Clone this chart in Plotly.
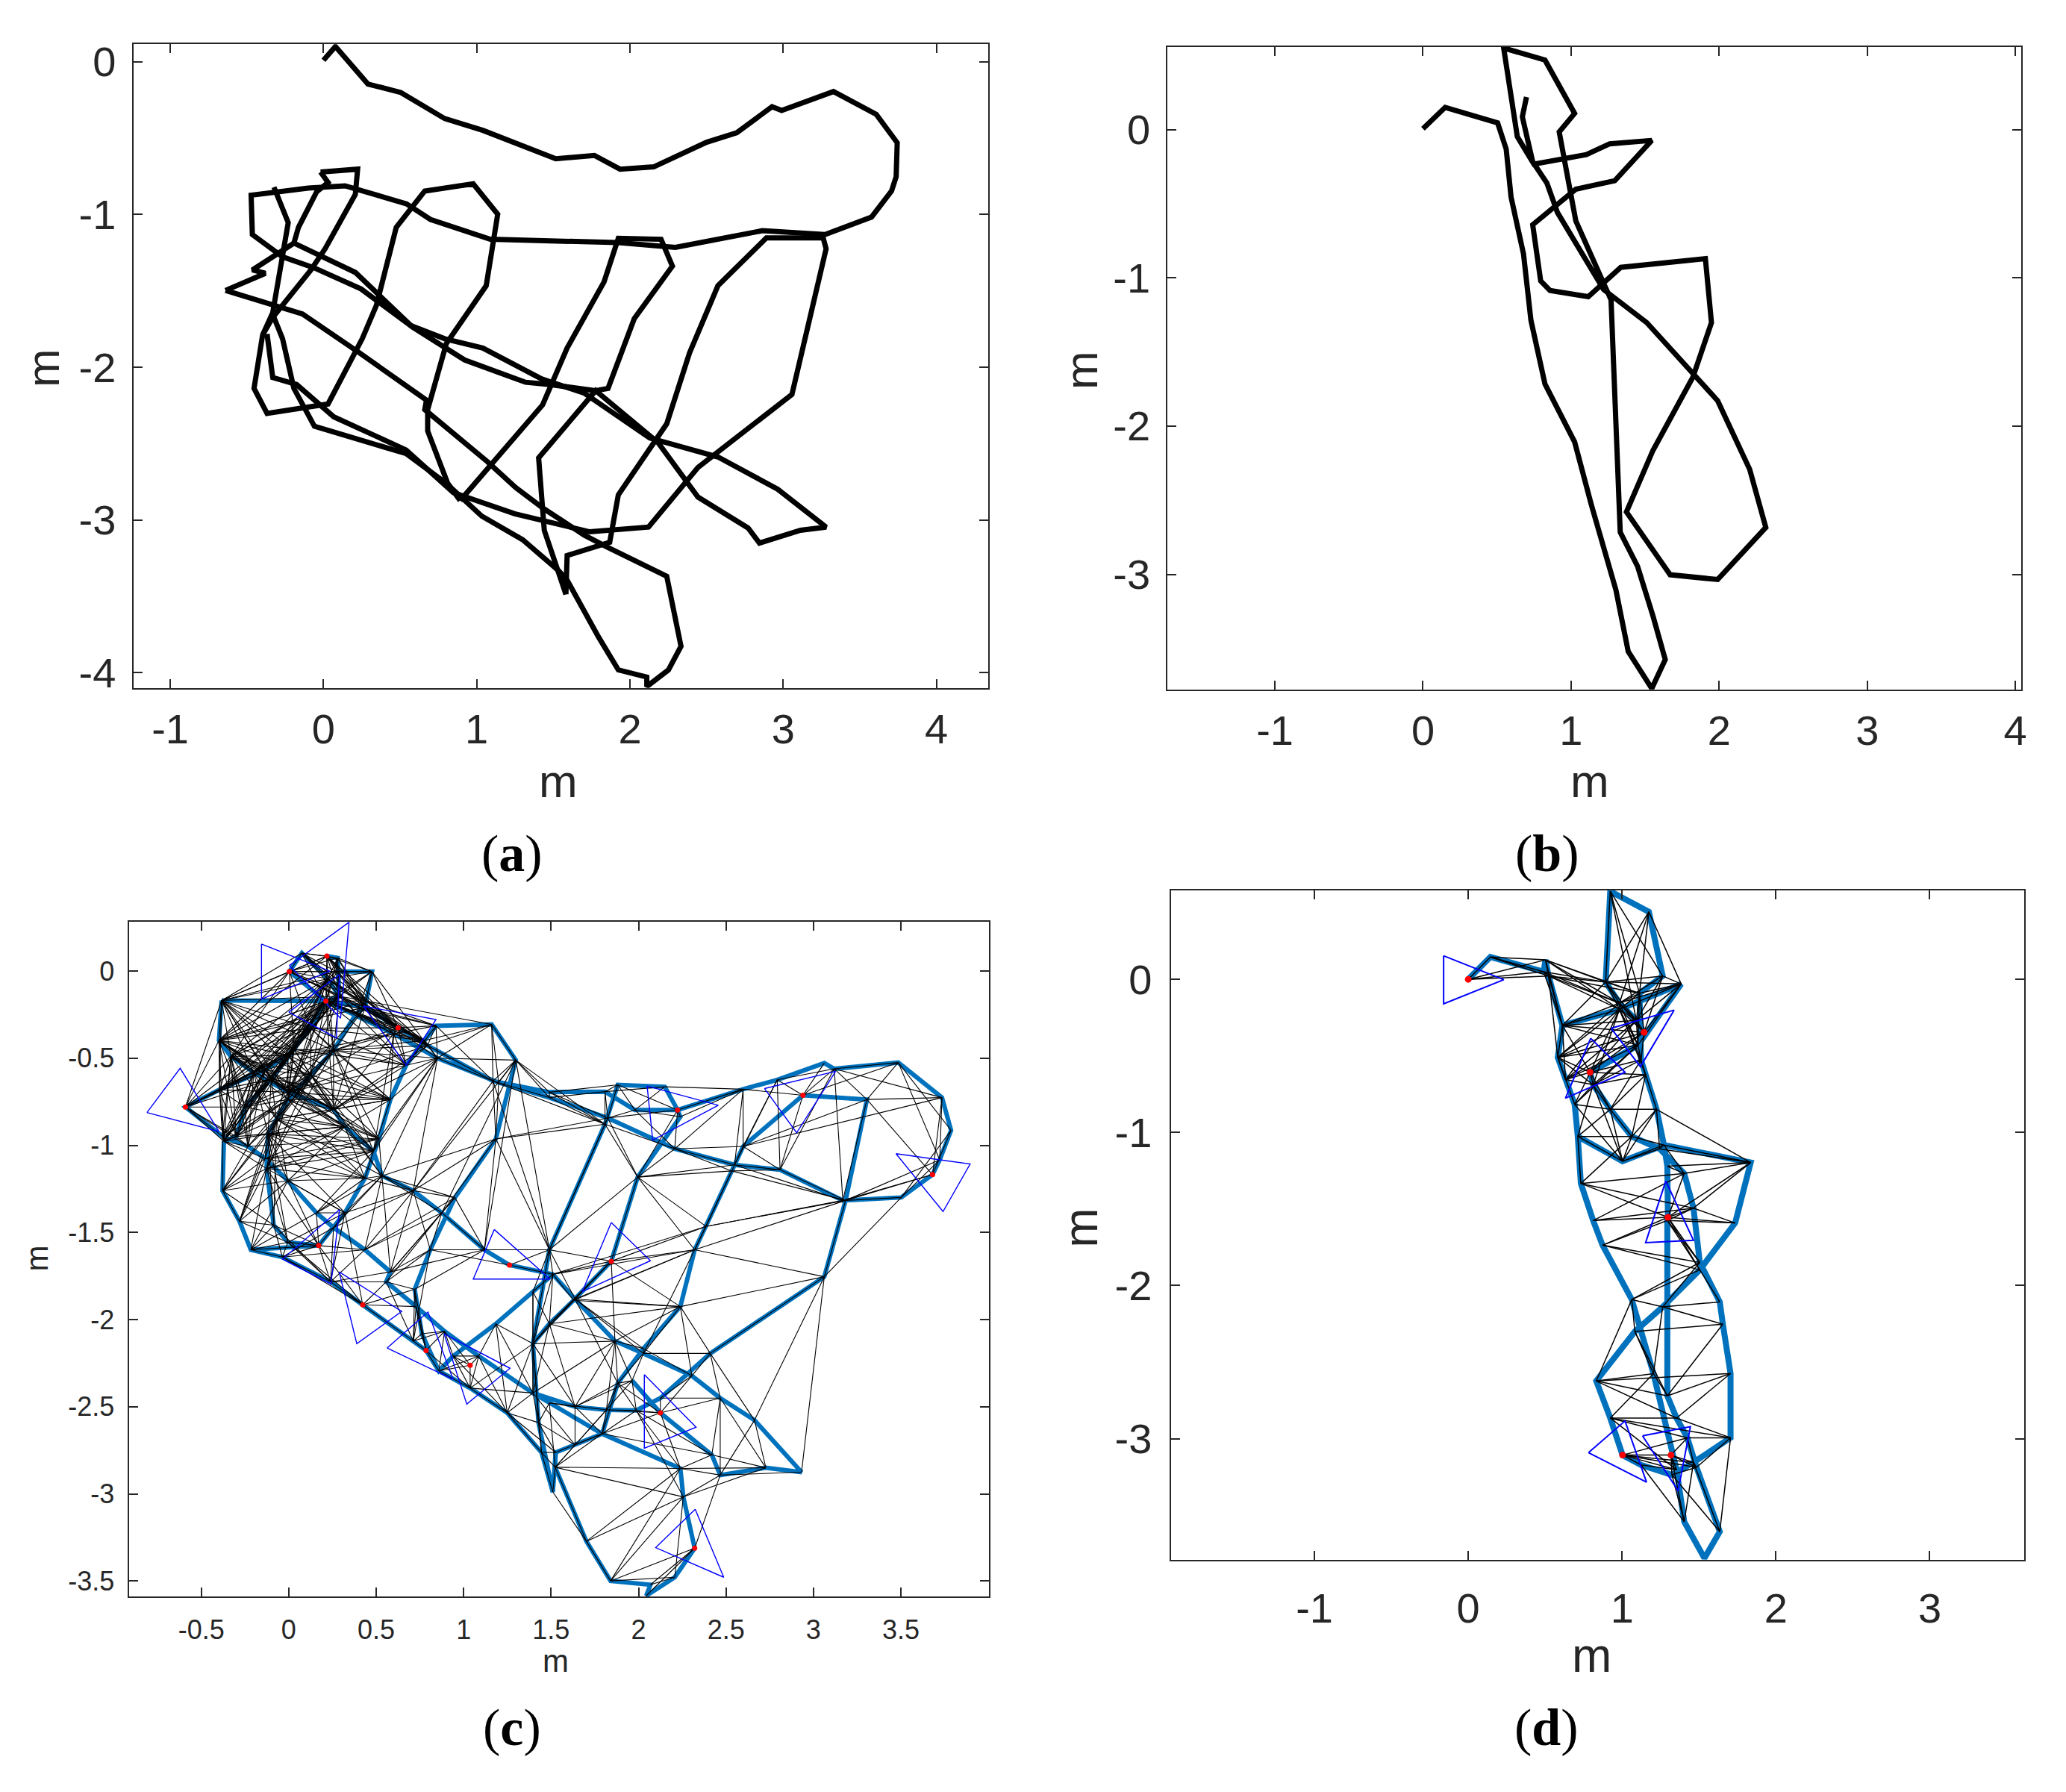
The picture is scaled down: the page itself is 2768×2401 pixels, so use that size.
import plotly.graph_objects as go

# ---------------- panel (a): raw trajectory, metres ----------------
traj_a = [
    [(0.00, 0.01), (0.078, 0.10), (0.29, -0.146), (0.505, -0.201), (0.791, -0.372), (1.040, -0.449),
     (1.516, -0.635), (1.768, -0.613), (1.935, -0.703), (2.155, -0.688), (2.500, -0.527), (2.697, -0.465),
     (2.927, -0.294), (2.990, -0.319), (3.328, -0.195), (3.607, -0.344), (3.744, -0.530), (3.737, -0.753),
     (3.707, -0.846), (3.577, -1.016), (3.273, -1.131), (2.864, -1.106), (2.296, -1.215), (1.924, -1.184),
     (1.088, -1.162), (0.698, -1.032), (0.542, -0.930), (0.141, -0.812), (-0.100, -0.827), (-0.472, -0.874),
     (-0.464, -1.131), (-0.267, -1.277), (-0.063, -1.348), (0.245, -1.487), (0.568, -1.726), (0.791, -1.813),
     (1.040, -1.874), (1.423, -2.076), (1.701, -2.169), (2.129, -2.463), (2.574, -2.587), (2.964, -2.798),
     (3.280, -3.046), (3.113, -3.067), (2.845, -3.151), (2.771, -3.052), (2.444, -2.850), (2.184, -2.494),
     (1.776, -2.153), (1.404, -2.593), (1.441, -3.067), (1.582, -3.486)],
    [(0.892, -2.872), (1.430, -2.246), (1.590, -1.874), (1.831, -1.441), (1.924, -1.156), (2.203, -1.162),
     (2.277, -1.338), (2.028, -1.682), (1.857, -2.138), (1.776, -2.153)],
    [(-0.323, -0.821), (-0.230, -1.053), (-0.331, -1.642), (-0.397, -1.788), (-0.453, -2.138), (-0.368, -2.302),
     (0.030, -2.240), (0.253, -1.813), (0.345, -1.596), (0.475, -1.084), (0.661, -0.846), (0.977, -0.799),
     (1.137, -0.998), (1.062, -1.466), (0.802, -1.844), (0.680, -2.277), (0.680, -2.417), (0.810, -2.758),
     (0.892, -2.872)],
    [(-0.019, -0.722), (0.223, -0.703), (0.208, -0.868), (0.011, -1.224), (-0.082, -1.363), (-0.331, -1.673),
     (-0.397, -1.788)],
    [(-0.019, -0.722), (0.030, -0.790), (-0.045, -0.852), (-0.163, -1.084), (-0.193, -1.187)],
    [(-0.639, -1.497), (-0.137, -1.651), (0.234, -1.905), (0.672, -2.215), (0.661, -2.277), (1.070, -2.618),
     (1.256, -2.789), (1.441, -2.928), (1.701, -3.098), (1.850, -3.176), (2.240, -3.368), (2.333, -3.826),
     (2.251, -3.981), (2.110, -4.09), (2.110, -4.028), (1.924, -3.981), (1.794, -3.764), (1.590, -3.393),
     (1.534, -3.331), (1.300, -3.129), (1.033, -2.974), (0.799, -2.758), (0.539, -2.565), (-0.059, -2.386),
     (-0.193, -2.138), (-0.267, -1.813), (-0.323, -1.673)],
    [(-0.368, -1.782), (-0.331, -2.067), (-0.175, -2.113), (0.067, -2.324), (0.539, -2.541), (0.847, -2.820),
     (1.248, -2.959), (1.738, -3.077), (2.121, -3.046), (2.444, -2.655), (3.057, -2.178), (3.280, -1.224),
     (3.261, -1.153), (2.890, -1.153), (2.574, -1.466), (2.389, -1.905), (2.240, -2.370), (1.924, -2.835),
     (1.868, -3.145), (1.590, -3.232), (1.582, -3.486)],
    [(-0.639, -1.497), (-0.379, -1.385), (-0.464, -1.363), (-0.193, -1.187), (0.208, -1.379), (0.579, -1.735),
     (0.921, -1.952), (1.319, -2.098), (1.478, -2.113), (1.694, -2.141), (1.776, -2.153)],
]

# ---------------- panel (b): raw trajectory, metres ----------------
traj_b = [
    [(0.000, 0.006), (0.150, 0.150), (0.504, 0.045), (0.562, -0.131), (0.595, -0.456), (0.679, -0.839),
     (0.729, -1.286), (0.824, -1.717), (1.024, -2.107), (1.137, -2.531), (1.303, -3.106), (1.386, -3.521),
     (1.545, -3.770), (1.636, -3.575), (1.553, -3.281), (1.449, -2.946), (1.332, -2.716), (1.270, -1.149),
     (1.032, -0.616), (0.983, -0.361), (0.920, -0.016), (1.024, 0.109), (0.824, 0.469), (0.545, 0.550),
     (0.637, -0.048), (0.749, -0.233), (1.103, -0.169), (1.261, -0.096), (1.545, -0.073), (1.295, -0.345),
     (1.032, -0.402), (0.741, -0.642), (0.795, -1.021), (0.858, -1.085), (1.116, -1.127), (1.336, -0.929),
     (1.907, -0.871), (1.948, -1.302), (1.823, -1.669), (1.553, -2.164), (1.374, -2.579), (1.669, -3.003),
     (1.990, -3.035), (2.315, -2.684), (2.206, -2.292), (1.990, -1.829), (1.511, -1.302), (1.220, -1.079),
     (0.908, -0.559), (0.837, -0.361), (0.741, -0.217), (0.671, 0.086), (0.699, 0.220)],
]

# ---------------- panel (c): optimised poses + graph ----------------
nodes_c_x = [
    0.003, 0.075, 0.218, 0.280, 0.272, 0.476, 0.443, 0.212, 0.288, -0.384,
    0.435, 0.625, 0.793, 1.168, 1.490, 1.808, 1.979, 2.223, 2.598, 2.793,
    3.062, 3.119, 3.485, 3.735, 3.787, 3.722, 3.681, 3.502, 3.168, 2.809,
    2.549, 2.207, 1.824, 1.490, 1.200, 0.850, 0.600, -0.399, -0.331, -0.200,
    -0.005, 0.256, 0.321, 0.484, 0.533, 0.712, 0.875, 1.119, 1.262, 1.510,
    1.637, 1.865, 2.028, 2.305, 2.467, 2.663, 2.932, 2.728, 2.467, 2.419,
    2.125, 1.963, 1.808, 1.881, 2.150, 1.490, 1.396, 1.428, 1.510, 1.526,
    1.637, 1.792, 2.239, 1.995, 1.844, 1.629, 1.490, 2.239, 2.256, 2.321,
    2.207, 2.044, 2.068, 1.840, 1.702, 1.523, 1.490, 2.940, 3.306, 3.184,
    3.062, 2.410, 1.987, 1.816, 1.637, 1.396, 1.086, 0.891, 0.728, 0.557,
    0.581, 0.435, 0.256, 0.158, -0.005, -0.135, -0.233, -0.379, -0.591, -0.396,
    -0.135, -0.005, 0.125, 2.598, 2.533, 2.386, 2.321, 2.239, 2.028, 1.881,
    -0.371, -0.379, -0.282, -0.217, 0.171, 0.321, 0.435, 0.516, 0.581, 0.671,
    0.777, 0.842, 1.160, 1.298, 1.184, 0.950, 0.809, 0.720, 0.761, 0.858,
    0.940, 1.184, 1.396, -0.037, 0.239, 0.423, 0.712, 1.037, 1.249, 1.445,
    0.030, -0.100, -0.250, -0.300, 0.386, 0.256, 0.125, -0.070, -0.119, -0.127,
    -0.086, -0.005, 0.785, 1.037, 2.125, -0.005, 0.223,
]
nodes_c_y = [
    -0.003, 0.103, 0.086, 0.075, -0.003, -0.003, -0.172, -0.172, -0.144, -0.169,
    -0.208, -0.325, -0.427, -0.631, -0.695, -0.692, -0.797, -0.797, -0.678, -0.624,
    -0.528, -0.561, -0.525, -0.726, -0.914, -1.083, -1.168, -1.299, -1.316, -1.140,
    -1.112, -1.020, -0.843, -0.726, -0.640, -0.500, -0.360, -0.398, -0.490, -0.582,
    -0.695, -0.794, -0.893, -1.034, -1.175, -1.260, -1.387, -1.599, -1.687, -1.740,
    -1.882, -2.123, -2.194, -2.322, -2.450, -2.577, -2.875, -2.850, -2.892, -2.776,
    -2.535, -2.350, -0.879, -0.653, -0.664, -1.599, -2.138, -2.591, -2.989, -2.762,
    -2.719, -2.655, -0.836, -1.182, -1.665, -1.889, -2.024, -2.854, -3.017, -3.311,
    -3.478, -3.584, -3.521, -3.499, -3.272, -2.847, -2.478, -0.713, -0.737, -1.316,
    -1.754, -2.194, -2.521, -2.518, -2.500, -2.421, -2.209, -2.067, -1.925, -1.783,
    -1.726, -1.599, -1.472, -1.387, -1.203, -1.076, -1.006, -0.949, -0.780, -0.681,
    -0.568, -0.483, -0.328, -1.006, -1.147, -1.465, -1.599, -1.925, -2.166, -2.365,
    -0.977, -1.260, -1.436, -1.599, -1.575, -1.387, -1.189, -0.963, -0.737, -0.540,
    -0.398, -0.314, -0.306, -0.511, -0.963, -1.300, -1.599, -1.826, -2.081, -2.294,
    -2.209, -2.024, -1.840, -1.641, -1.783, -1.915, -2.123, -2.393, -2.535, -2.762,
    -0.450, -0.620, -0.780, -0.950, -0.243, -0.455, -0.596, -0.850, -0.935, -1.133,
    -1.458, -1.556, -2.177, -2.262, -2.450, -0.737, -0.045,
]
path_c = [
    [9, 7],
    [7, 10, 11, 12, 13, 14, 15, 16, 17, 18, 19, 20, 21, 22, 23, 24, 25, 26, 27, 28, 29, 30, 31, 32, 33,
     34, 35, 36, 7],
    [9, 37, 38, 39, 40, 41, 42, 43, 44, 45, 46, 47, 48, 49, 50, 51, 52, 53, 54, 55, 56, 57, 58, 59, 60, 61],
    [17, 64, 63, 62, 65, 66, 67, 68, 69, 70, 71],
    [17, 72, 73, 74, 75, 76, 66],
    [95, 86, 71, 77, 78, 79, 80, 81, 82, 83, 84, 85, 69],
    [87, 88, 89, 90, 91, 164, 92, 93, 94, 95, 96, 97, 98, 99, 100, 101, 102, 103, 104, 105, 106, 107, 108,
     109, 110, 111, 112, 7],
    [87, 113, 114, 115, 116, 117, 118, 119, 71],
    [120, 121, 122, 123, 124, 125, 126, 127, 128, 129, 130, 131, 132, 133, 134, 135, 136, 137, 138, 139,
     140, 141, 142, 49],
    [123, 143, 144, 145, 146, 162, 139, 147, 148, 149, 68],
    [7, 150, 151, 152, 153, 120],
    [10, 154, 155, 156, 165, 157, 158, 159, 160, 161, 124],
    [0, 1, 166, 8, 7],
    [2, 3, 8],
    [4, 5, 6, 10],
    [0, 7],
]
# loop-closure edges, written as hub -> connected poses
links_c = {
    0: [1, 2, 3, 4, 5, 6, 8, 9, 10, 11, 37, 38, 112, 150, 166],
    1: [2, 3, 4, 8, 9, 166, 10, 6],
    2: [4, 5, 6, 8, 9, 10, 11, 12, 37, 166],
    3: [4, 5, 6, 10, 166],
    4: [6, 8, 10, 11, 166, 5],
    5: [8, 10, 11, 12, 154, 166],
    6: [11, 12, 130, 131, 132, 154, 10],
    7: [1, 2, 3, 4, 5, 6, 8, 11, 12, 36, 37, 38, 39, 40, 41, 108, 109, 110, 111, 150, 151, 152, 155, 156,
        165, 120, 129, 130, 131, 166, 154],
    8: [1, 2, 3, 9, 37, 38, 39, 40, 109, 110, 111, 112, 150, 151, 154, 155, 156, 5, 6, 10, 11],
    9: [1, 37, 38, 39, 40, 108, 109, 110, 111, 112, 150, 151, 166, 4, 41, 155],
    10: [11, 12, 130, 131, 36, 35, 154, 155, 129, 41, 40],
    166: [4, 5, 6, 9, 10, 11, 12, 37, 38, 39, 109, 110, 111, 112, 150, 151, 154, 155],
    112: [150, 151, 152, 155, 156, 165, 109, 110, 38, 39, 129, 130],
    150: [151, 152, 153, 155, 156, 165, 157, 109, 120, 128, 129],
    151: [152, 153, 155, 156, 157, 158, 120, 107, 127, 128],
    155: [156, 165, 157, 158, 159, 129, 130, 36, 35, 43],
    156: [165, 157, 158, 159, 152, 153, 43, 44, 127],
    165: [157, 158, 159, 152, 153, 120, 107, 106, 126, 127],
    157: [159, 160, 121, 122, 126, 44],
    158: [160, 161, 121, 122, 125, 126],
    159: [161, 122, 123, 124, 125],
    109: [110, 111, 150, 151, 152, 153, 37, 38, 39, 40, 107],
    110: [150, 151, 152, 153, 155, 156, 165, 40, 41, 107, 106],
    111: [150, 151, 152, 155, 156, 165, 41, 42, 36],
    36: [154, 155, 129, 130, 131, 128, 43],
    35: [129, 130, 131, 132, 133, 127, 128, 43, 44, 45],
    37: [39, 40, 108, 109, 110, 111, 150, 151, 152, 153, 120, 156, 41, 42, 10, 6, 112],
    38: [40, 108, 109, 110, 111, 152, 153, 120, 107, 106, 157, 165, 41, 156],
    39: [108, 109, 110, 111, 152, 153, 120, 106, 107, 157, 158, 41, 150, 112],
    40: [109, 110, 111, 150, 151, 152, 155, 156, 157, 165, 11, 12, 128, 129, 42, 43],
    41: [43, 110, 111, 150, 155, 156, 157, 158, 128, 129, 127, 11, 12, 35, 165],
    42: [44, 127, 128, 158, 159, 151, 152, 153, 157, 165, 126],
    43: [126, 127, 128, 157, 158, 159, 105],
    44: [45, 46, 134, 135, 100, 101, 126, 127],
    45: [134, 135, 136, 100, 101],
    46: [134, 135, 136, 99, 100, 47],
    47: [134, 135, 65, 136],
    108: [110, 111, 106, 107, 120, 152, 153, 151, 150, 39, 9, 37, 38],
    120: [107, 106, 105, 152, 153, 157, 158, 159, 109, 110, 151],
    121: [105, 106, 104, 159, 160, 158, 107],
    122: [104, 105, 160, 161, 159, 121],
    123: [143, 160, 161, 104, 103, 124],
    124: [143, 144, 102, 103, 160, 161, 101, 104, 145],
    125: [102, 103, 104, 44, 45, 144, 145, 161],
    126: [103, 104, 44, 45, 159, 105, 43],
    127: [43, 42, 105, 106, 158, 159, 155, 156],
    128: [42, 41, 155, 156, 165, 157, 112, 111],
    129: [131, 11, 12, 36, 155, 154, 112, 35],
    130: [11, 12, 35, 36, 154, 10, 132],
    131: [12, 13, 35, 10, 11],
    132: [13, 34, 35, 12, 133],
    133: [13, 14, 33, 34, 46, 45, 132, 65, 47, 62],
    134: [46, 47, 45, 44, 13, 34, 65],
    11: [36, 154, 155, 10, 6, 5, 112],
    12: [35, 36, 154, 155, 13],
    13: [33, 34, 35, 65, 134, 62, 45],
    14: [32, 62, 63, 33],
    15: [63, 64, 32, 62, 33],
    16: [64, 72, 32, 31, 63],
    17: [63, 72, 73, 31, 32, 18],
    18: [64, 30, 31, 113, 87, 72],
    19: [21, 29, 30, 113, 87],
    87: [20, 21, 18, 19, 29, 22],
    21: [88, 28, 29, 22, 23],
    22: [88, 24, 25, 87],
    23: [25, 26, 88, 113],
    24: [26, 27],
    25: [27, 89],
    26: [28, 89, 88],
    27: [89, 90],
    28: [89, 88, 30, 115],
    29: [89, 113, 114, 30],
    30: [113, 114, 31, 73],
    31: [62, 73, 113, 114],
    32: [62, 63, 73, 134, 65],
    62: [73, 65, 33, 134],
    65: [73, 74, 66, 49, 50, 142, 47, 48, 134],
    73: [114, 115, 62, 65, 116],
    74: [75, 76, 65, 73, 115, 116, 117, 49, 50, 51],
    89: [90, 116, 115, 114],
    114: [115, 116, 89],
    115: [74, 116, 49],
    116: [74, 75, 49, 50, 52, 90],
    117: [75, 76, 51, 91],
    49: [142, 48, 66, 75, 76],
    50: [52, 75, 76, 66, 117, 118, 119],
    51: [118, 119, 61, 66, 76, 93, 94, 95],
    52: [117, 118, 119, 61, 91],
    53: [117, 91, 164, 60, 118],
    54: [60, 164, 91, 57, 58, 59],
    55: [57, 58, 91, 90],
    56: [58, 90],
    57: [59, 77, 78],
    58: [77, 78, 79],
    59: [77, 71, 92],
    60: [92, 93, 164, 119, 71, 77],
    61: [119, 93, 92],
    71: [92, 93, 94, 70, 69, 119, 85],
    70: [94, 95, 67, 85],
    66: [76, 75, 142, 148, 149],
    67: [69, 95, 149, 148, 66],
    68: [149, 85, 84],
    76: [142, 95, 94],
    85: [84, 86, 77, 78],
    86: [94, 67, 93],
    77: [84, 83],
    78: [80, 83, 84],
    79: [81, 82, 83],
    80: [82, 83],
    83: [84],
    92: [93, 119, 61, 77, 78],
    93: [119, 61, 70, 85],
    94: [119, 61, 66, 76],
    95: [148, 147, 66, 142],
    96: [147, 148, 163, 140, 141, 139],
    97: [140, 139, 138, 146, 162, 163],
    98: [138, 137, 146, 145],
    99: [137, 136, 145, 144],
    100: [136, 135, 144, 47],
    101: [135, 45, 46, 144, 143],
    102: [45, 44, 143],
    103: [44, 43],
    104: [43, 42, 157, 158],
    105: [42, 157, 158],
    106: [157, 152, 153],
    136: [46, 47, 48],
    137: [146, 145, 47],
    138: [146, 162],
    139: [163],
    140: [147, 163, 148],
    141: [148, 95, 66],
    143: [145, 160, 161, 101, 102],
    144: [143, 160, 161, 146, 100, 101, 102],
    145: [161],
    146: [162, 136, 137, 99, 98],
    147: [148, 163, 162, 139, 66],
    148: [149, 67, 69],
    149: [68, 69, 85],
    162: [139, 137, 98],
    90: [91, 116, 117],
    88: [113],
}
keyframes_c = [0, 2, 7, 11, 108, 124, 48, 145, 162, 163, 17, 87, 26, 74, 60, 79]
frusta_c = [
    [(-0.156, 0.155), (-0.156, -0.161), (0.235, 0.0)],
    [(0.003, 0.032), (0.345, 0.28), (0.296, -0.271)],
    [(0.0, -0.236), (0.272, -0.384), (0.29, -0.02)],
    [(0.427, -0.201), (0.842, -0.278), (0.671, -0.540)],
    [(-0.811, -0.812), (-0.621, -0.558), (-0.399, -0.921)],
    [(0.290, -1.369), (-0.036, -1.653), (0.241, -1.796)],
    [(1.175, -1.483), (1.055, -1.767), (1.494, -1.767)],
    [(0.288, -1.726), (0.646, -1.953), (0.389, -2.138)],
    [(0.562, -2.163), (0.796, -1.956), (0.940, -2.343)],
    [(0.888, -2.081), (1.265, -2.279), (1.018, -2.485)],
    [(2.049, -0.660), (2.456, -0.770), (2.081, -0.970)],
    [(2.720, -0.674), (3.127, -0.575), (2.904, -0.928)],
    [(3.472, -1.048), (3.896, -1.107), (3.741, -1.380)],
    [(1.844, -1.443), (2.068, -1.662), (1.678, -1.840)],
    [(2.033, -2.315), (2.329, -2.617), (2.033, -2.738)],
    [(2.324, -3.088), (2.487, -3.478), (2.098, -3.308)],
]

# ---------------- panel (d): optimised poses + graph ----------------
nodes_d_x = [
    0.000, 0.144, 0.490, 0.502, 0.522, 0.612, 0.582, 0.632, 0.692, 0.712,
    0.732, 0.812, 0.873, 1.063, 1.204, 1.354, 1.404, 1.535, 1.635, 1.484,
    1.424, 1.354, 1.294, 1.294, 1.294, 1.272, 1.224, 1.153, 1.123, 1.113,
    1.264, 1.174, 0.923, 0.893, 0.983, 1.093, 1.143, 1.103, 0.792, 1.384,
    0.983, 0.812, 0.923, 1.063, 1.244, 1.404, 1.464, 1.505, 1.635, 1.655,
    1.705, 1.705, 1.464, 1.324, 1.123, 1.003, 0.923, 0.832, 1.083, 1.264,
    1.505, 1.735, 1.836, 1.003, 1.298, 1.318,
]
nodes_d_y = [
    0.000, 0.146, 0.050, 0.127, 0.022, -0.301, -0.510, -0.655, -0.817, -1.026,
    -1.333, -1.575, -1.736, -2.091, -2.575, -3.203, -3.542, -3.780, -3.607, -3.187,
    -2.994, -2.865, -2.720, -1.575, -1.220, -1.082, -0.849, -0.623, -0.526, -0.091,
    0.022, 0.441, 0.575, -0.018, -0.155, -0.268, -0.346, -0.430, -0.607, -0.030,
    -0.196, -0.688, -0.849, -1.026, -1.107, -1.268, -1.494, -1.849, -2.107, -2.252,
    -2.574, -2.994, -3.155, -3.236, -3.171, -3.107, -2.865, -2.623, -2.300, -2.139,
    -1.897, -1.591, -1.196, -1.188, -1.554, -3.107,
]
path_d = [
    [0, 1, 2, 3, 4, 5, 6, 7, 8, 9, 10, 11, 12, 13, 14, 15, 16, 17, 18, 19, 20, 21, 22, 23, 64, 24, 25, 26,
     27, 28, 29, 30, 31, 32, 33, 34, 35, 36, 37, 38, 41, 42, 43, 44, 45, 46, 47, 48, 49, 50, 51, 52, 53, 54,
     55, 56, 57, 58, 59, 60, 61, 62, 25, 63, 9],
    [5, 40, 39, 37, 38],
]
links_d = {
    0: [1, 2, 4, 3],
    1: [2, 3, 4],
    2: [4, 5, 33, 34],
    3: [5, 33, 34, 40, 29, 4],
    4: [33, 34, 5, 40, 6, 29],
    5: [33, 34, 35, 36, 40, 37, 6, 7, 38],
    6: [34, 35, 36, 37, 38, 40, 41, 7, 8],
    7: [36, 37, 38, 40, 41, 35],
    8: [38, 41, 42, 37, 63],
    9: [41, 42, 43, 63, 10],
    30: [33, 34, 35, 36],
    33: [29, 30, 34, 35, 39, 40, 31, 32],
    34: [29, 30, 35, 36, 39, 40, 37, 31],
    35: [29, 30, 39, 40, 37, 38, 32, 36],
    36: [29, 39, 40, 28, 38],
    37: [28, 29, 39, 40, 41],
    38: [40, 27, 28, 41, 42],
    39: [40, 30, 31],
    40: [27, 28, 41],
    28: [41, 42, 38, 26],
    27: [42, 43, 41],
    26: [43, 63, 44],
    25: [63, 43, 62],
    32: [29, 30, 33],
    31: [33, 34, 29],
    29: [39, 40],
    41: [27, 42, 63],
    42: [26, 27, 63, 43],
    43: [26, 63, 25, 10],
    44: [25, 26, 62, 63],
    45: [24, 25, 62, 64, 10, 11],
    62: [24, 64, 46, 26],
    46: [64, 23, 10, 11, 61],
    64: [10, 11, 61, 47, 60, 12],
    23: [47, 60, 12, 61],
    47: [12, 13, 59],
    60: [12, 13, 48],
    59: [48, 49, 13, 14],
    58: [13, 14, 49, 22],
    22: [49, 50, 14, 57, 58],
    57: [14, 50, 13],
    56: [14, 21, 51, 15],
    21: [50, 51, 57],
    20: [51, 52, 55, 56],
    55: [15, 65, 19, 20, 52, 54],
    65: [19, 20, 52, 53, 15, 16],
    53: [16, 19, 18],
    52: [18, 19, 16],
    54: [15, 16],
    51: [19, 18],
}
keyframes_d = [0, 36, 38, 64, 55, 65]
frusta_d = [
    [(-0.160, 0.154), (-0.160, -0.160), (0.231, -0.002)],
    [(0.929, -0.320), (1.338, -0.201), (1.119, -0.570)],
    [(0.796, -0.385), (1.019, -0.607), (0.632, -0.776)],
    [(1.284, -1.317), (1.153, -1.720), (1.464, -1.704)],
    [(0.782, -3.091), (1.019, -2.884), (1.159, -3.284)],
    [(1.133, -2.981), (1.444, -2.921), (1.364, -3.340)],
]

SANS = "Liberation Sans Narrow, Arial Narrow, Liberation Sans, sans-serif"
SERIF = "Liberation Serif, Times New Roman, serif"
INK = "#262626"
BLUE = "#0072BD"


def _polylines(lines):
    xs, ys = [], []
    for line in lines:
        for x, y in line:
            xs.append(x)
            ys.append(y)
        xs.append(None)
        ys.append(None)
    return xs, ys


def _index_paths(nx, ny, paths):
    return _polylines([[(nx[i], ny[i]) for i in p] for p in paths])


def _links(nx, ny, links):
    seen, segs = set(), []
    for hub, others in links.items():
        for o in others:
            key = (min(hub, o), max(hub, o))
            if hub == o or key in seen:
                continue
            seen.add(key)
            segs.append([(nx[hub], ny[hub]), (nx[o], ny[o])])
    return _polylines(segs)


def _triangles(tris):
    return _polylines([t + [t[0]] for t in tris])


fig = go.Figure()

# (a)
x, y = _polylines(traj_a)
fig.add_trace(go.Scatter(x=x, y=y, mode="lines", line=dict(color="black", width=7),
                         xaxis="x", yaxis="y", hoverinfo="skip"))
# (b)
x, y = _polylines(traj_b)
fig.add_trace(go.Scatter(x=x, y=y, mode="lines", line=dict(color="black", width=7),
                         xaxis="x2", yaxis="y2", hoverinfo="skip"))


def _graph_panel(nx, ny, paths, links, keys, tris, xa, ya, w_blue, w_edge, w_tri, dot):
    px, py = _index_paths(nx, ny, paths)
    fig.add_trace(go.Scatter(x=px, y=py, mode="lines", line=dict(color=BLUE, width=w_blue),
                             xaxis=xa, yaxis=ya, hoverinfo="skip"))
    ex, ey = _links(nx, ny, links)
    fig.add_trace(go.Scatter(x=ex, y=ey, mode="lines", line=dict(color="black", width=w_edge),
                             xaxis=xa, yaxis=ya, hoverinfo="skip"))
    tx, ty = _triangles(tris)
    fig.add_trace(go.Scatter(x=tx, y=ty, mode="lines", line=dict(color="#0000FF", width=w_tri),
                             xaxis=xa, yaxis=ya, hoverinfo="skip"))
    fig.add_trace(go.Scatter(x=[nx[k] for k in keys], y=[ny[k] for k in keys], mode="markers",
                             marker=dict(color="#FF0000", size=dot, line=dict(width=0)),
                             xaxis=xa, yaxis=ya, hoverinfo="skip"))


_graph_panel(nodes_c_x, nodes_c_y, path_c, links_c, keyframes_c, frusta_c, "x3", "y3", 6, 1.1, 1.4, 7)
_graph_panel(nodes_d_x, nodes_d_y, path_d, links_d, keyframes_d, frusta_d, "x4", "y4", 8, 1.5, 2, 9)


def _axis(domain, rng, vals, texts, size, anchor, standoff):
    return dict(domain=domain, range=rng, tickvals=vals, ticktext=texts, anchor=anchor,
                showline=True, linecolor=INK, linewidth=2, mirror="ticks",
                ticks="inside", ticklen=12, tickwidth=1.5, tickcolor=INK,
                showgrid=False, zeroline=False, ticklabelstandoff=standoff,
                tickfont=dict(family=SANS, size=size, color=INK))


ints = lambda a, b: list(range(a, b + 1))
lab = lambda vs: [("%g" % v) for v in vs]
halves_x = [-0.5, 0, 0.5, 1, 1.5, 2, 2.5, 3, 3.5]
halves_y = [0, -0.5, -1, -1.5, -2, -2.5, -3, -3.5]

fig.update_layout(
    width=2768, height=2401, margin=dict(l=0, r=0, t=0, b=0),
    paper_bgcolor="white", plot_bgcolor="white", showlegend=False,
    xaxis=_axis([0.0647, 0.4798], [-1.241, 4.339], ints(-1, 4), lab(ints(-1, 4)), 56, "y", 5),
    yaxis=_axis([0.6164, 0.9785], [-4.099, 0.115], ints(-4, 0), lab(ints(-4, 0)), 56, "x", 10),
    xaxis2=_axis([0.5668, 0.9812], [-1.724, 4.04], ints(-1, 4), lab(ints(-1, 4)), 56, "y2", 5),
    yaxis2=_axis([0.6156, 0.9770], [-3.776, 0.558], ints(-3, 0), lab(ints(-3, 0)), 56, "x2", 10),
    xaxis3=_axis([0.0625, 0.4801], [-0.915, 4.004], halves_x, lab(halves_x), 36, "y3", 12),
    yaxis3=_axis([0.1054, 0.4848], [-3.588, 0.282], halves_y, lab(halves_y), 36, "x3", 10),
    xaxis4=_axis([0.5683, 0.9827], [-1.934, 3.615], ints(-1, 3), lab(ints(-1, 3)), 56, "y4", 14),
    yaxis4=_axis([0.1258, 0.5027], [-3.793, 0.583], ints(-3, 0), lab(ints(-3, 0)), 56, "x4", 12),
)

notes = [
    # axis titles
    (0.2710, 0.5639, "m", 62, 0, SANS),
    (0.7717, 0.5639, "m", 62, 0, SANS),
    (0.2699, 0.0691, "m", 42, 0, SANS),
    (0.7728, 0.0721, "m", 64, 0, SANS),
    (0.0206, 0.7963, "m", 62, -90, SANS),
    (0.5246, 0.7951, "m", 62, -90, SANS),
    (0.0181, 0.2957, "m", 42, -90, SANS),
    (0.5246, 0.3128, "m", 64, -90, SANS),
    # sub-figure captions
    (0.2486, 0.5235, "(<b>a</b>)", 70, 0, SERIF),
    (0.7511, 0.5235, "(<b>b</b>)", 70, 0, SERIF),
    (0.2486, 0.0317, "(<b>c</b>)", 70, 0, SERIF),
    (0.7507, 0.0317, "(<b>d</b>)", 70, 0, SERIF),
]
for nx_, ny_, txt, sz, ang, fam in notes:
    fig.add_annotation(x=nx_, y=ny_, xref="paper", yref="paper", text=txt, showarrow=False,
                       xanchor="center", yanchor="middle", textangle=ang,
                       font=dict(family=fam, size=sz, color=INK if fam == SANS else "black"))

fig.write_html("out.html", config={"displayModeBar": False},
               post_script="document.body.style.margin='0px';")
